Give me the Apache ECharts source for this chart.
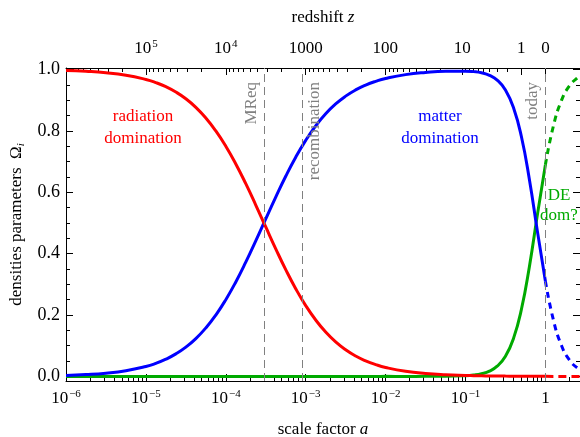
<!DOCTYPE html>
<html>
<head>
<meta charset="utf-8">
<script src="https://cdn.jsdelivr.net/npm/echarts@6/dist/echarts.min.js"></script>
<style>
html,body{margin:0;padding:0;background:#fff;}
#chart{width:580px;height:437px;}
</style>
</head>
<body>
<div id="chart"></div>
<script>
// ---- data ----
var scaleFactor = [1e-6, 1.778e-6, 3.162e-6, 5.623e-6, 1e-5,
  1.334e-5, 1.778e-5, 2.371e-5, 3.162e-5, 4.217e-5, 5.623e-5, 7.499e-5, 1e-4,
  1.334e-4, 1.778e-4, 2.371e-4, 3.162e-4, 4.217e-4, 5.623e-4, 7.499e-4, 1e-3,
  1.334e-3, 1.778e-3, 2.371e-3, 3.162e-3, 4.217e-3, 5.623e-3, 7.499e-3, 1e-2,
  1.778e-2, 3.162e-2, 5.623e-2, 0.1,
  0.1259, 0.1585, 0.1995, 0.2512, 0.3162, 0.3981, 0.5012, 0.631, 0.7943, 1,
  1.259, 1.585, 1.995, 2.512, 3];
var radiation = [0.9967, 0.9941, 0.9896, 0.9816, 0.9677,
  0.9574, 0.9440, 0.9267, 0.9047, 0.8768, 0.8421, 0.8, 0.75,
  0.6923, 0.6279, 0.5585, 0.4869, 0.4158, 0.3479, 0.2857, 0.2308,
  0.1837, 0.1444, 0.1123, 0.0867, 0.0664, 0.0507, 0.0385, 0.0291,
  0.0166, 0.0094, 0.0053, 0.0030,
  0.0024, 0.0019, 0.0015, 0.0012, 0.0009, 0.0007, 0.0005, 0.0003, 0.0002, 0.0001,
  0, 0, 0, 0, 0];
var matter = [0.0033, 0.0059, 0.0104, 0.0184, 0.0323,
  0.0426, 0.0560, 0.0733, 0.0953, 0.1232, 0.1579, 0.2, 0.25,
  0.3077, 0.3721, 0.4415, 0.5131, 0.5842, 0.6521, 0.7143, 0.7692,
  0.8163, 0.8556, 0.8877, 0.9133, 0.9336, 0.9493, 0.9615, 0.9709,
  0.9834, 0.9905, 0.9943, 0.9948,
  0.9932, 0.9894, 0.9812, 0.9649, 0.9334, 0.8763, 0.7808, 0.6412, 0.4726, 0.31,
  0.1838, 0.1014, 0.0535, 0.0276, 0.0164];
var darkEnergy = [0, 0, 0, 0, 0,
  0, 0, 0, 0, 0, 0, 0, 0,
  0, 0, 0, 0, 0, 0, 0, 0,
  0, 0, 0, 0, 0, 0, 0, 0.0001,
  0, 0.0001, 0.0004, 0.0022,
  0.0044, 0.0088, 0.0173, 0.0340, 0.0657, 0.1231, 0.2187, 0.3585, 0.5272, 0.69,
  0.8161, 0.8986, 0.9465, 0.9724, 0.9836];

var today = 1;
var epochLines = [
  {a: 3e-4, label: 'MReq', side: 'insideEndTop'},
  {a: 9.17e-4, label: 'recombination', side: 'insideEndBottom'},
  {a: 1, label: 'today', side: 'insideEndTop'}
];

var bottomMajorTicks = [1e-6, 1e-5, 1e-4, 1e-3, 1e-2, 1e-1, 1];
var redshiftTicks = [1e5, 1e4, 1000, 100, 10, 1, 0];
var yMajorTicks = [0, 0.2, 0.4, 0.6, 0.8, 1.0];
var yMinorTicks = [0.05, 0.1, 0.15, 0.25, 0.3, 0.35, 0.45, 0.5, 0.55, 0.65, 0.7, 0.75, 0.85, 0.9, 0.95];

var A_MIN = 1e-6, A_MAX = 2.71, Y_MIN = -0.015, Y_MAX = 1.005;
var LX_MIN = Math.log10(A_MIN), LX_MAX = Math.log10(A_MAX);
var lg = function (a) { return Math.log10(a); };

// tick positions (log10 of scale factor)
var bottomMinorTicks = [];
for (var k = -6; k <= 0; k++) for (var m = 2; m <= 9; m++) {
  var v = m * Math.pow(10, k); if (v <= A_MAX) bottomMinorTicks.push(lg(v));
}
var topMinorTicks = [];
for (var k2 = 0; k2 <= 5; k2++) for (var m2 = 2; m2 <= 9; m2++) {
  var av = 1 / (1 + m2 * Math.pow(10, k2)); if (av >= A_MIN) topMinorTicks.push(lg(av));
}
var bottomMajorL = bottomMajorTicks.map(lg);
var topMajorL = redshiftTicks.map(function (z) { return lg(1 / (1 + z)); });

function pairs(arr, keep) {
  var out = [];
  for (var i = 0; i < scaleFactor.length; i++) if (keep(scaleFactor[i])) out.push([lg(scaleFactor[i]), arr[i]]);
  return out;
}
var past = function (a) { return a <= today; };
var future = function (a) { return a >= today; };

var FONT = '"Liberation Serif", "Times New Roman", serif';
var RED = '#ff0000', BLUE = '#0000ff', GREEN = '#00aa00', GRAY = '#808080';

var labelRich = {
  b: {fontFamily: FONT, fontSize: 17, color: '#000', lineHeight: 20},
  s: {fontFamily: FONT, fontSize: 11, color: '#000', verticalAlign: 'top', lineHeight: 20, padding: [0, 0, 0, 1]}
};

function bottomFmt(v) {
  var e = Math.round(v);
  if (e === 0) return '{b|1}';
  return '{b|10}{s|\u2212' + (-e) + '}';
}
function topFmt(v) {
  var z = Math.round(Math.pow(10, -v) - 1);
  if (z >= 1e4) return '{b|10}{s|' + Math.round(Math.log10(z)) + '}';
  return '{b|' + z + '}';
}

function tickAxisX(pos, ticks, len, extra) {
  var ax = {
    type: 'value', position: pos, min: LX_MIN, max: LX_MAX,
    axisLine: {show: false, onZero: false}, splitLine: {show: false},
    axisLabel: {show: false},
    axisTick: {show: true, inside: true, length: len, customValues: ticks, lineStyle: {color: '#000', width: 1}}
  };
  if (extra) for (var key in extra) ax[key] = extra[key];
  return ax;
}
function tickAxisY(pos, ticks, len, extra) {
  var ax = {
    type: 'value', position: pos, min: Y_MIN, max: Y_MAX,
    axisLine: {show: false, onZero: false}, splitLine: {show: false},
    axisLabel: {show: false},
    axisTick: {show: true, inside: true, length: len, customValues: ticks, lineStyle: {color: '#000', width: 1}}
  };
  if (extra) for (var key in extra) ax[key] = extra[key];
  return ax;
}

var chart = echarts.init(document.getElementById('chart'), null, {renderer: 'canvas'});

var option = {
  animation: false,
  backgroundColor: '#fff',
  grid: {left: 66, right: 0, top: 68, bottom: 56, containLabel: false, outerBoundsMode: 'none'},
  xAxis: [
    tickAxisX('bottom', bottomMajorL, 7, {
      axisLine: {show: true, onZero: false, lineStyle: {color: '#000', width: 1}},
      axisLabel: {show: true, customValues: bottomMajorL, formatter: bottomFmt, rich: labelRich, margin: 8},
      name: 'scale factor {i|a}', nameLocation: 'middle', nameGap: 40,
      nameTextStyle: {fontFamily: FONT, fontSize: 17, color: '#000',
        rich: {i: {fontFamily: FONT, fontSize: 17, fontStyle: 'italic', color: '#000'}}}
    }),
    tickAxisX('bottom', bottomMinorTicks, 4),
    tickAxisX('top', topMajorL, 7, {
      axisLine: {show: true, onZero: false, lineStyle: {color: '#000', width: 1}},
      axisLabel: {show: true, customValues: topMajorL, formatter: topFmt, rich: labelRich, margin: 9},
      name: 'redshift {i|z}', nameLocation: 'middle', nameGap: 42,
      nameTextStyle: {fontFamily: FONT, fontSize: 17, color: '#000',
        rich: {i: {fontFamily: FONT, fontSize: 17, fontStyle: 'italic', color: '#000'}}}
    }),
    tickAxisX('top', topMinorTicks, 4)
  ],
  yAxis: [
    tickAxisY('left', yMajorTicks, 7, {
      axisLine: {show: true, onZero: false, lineStyle: {color: '#000', width: 1}},
      axisLabel: {show: true, customValues: yMajorTicks, margin: 6,
        formatter: function (v) { return v.toFixed(1); },
        fontFamily: FONT, fontSize: 18, color: '#000'},
      name: 'densities parameters  {o|\u03A9}{sub|i}', nameLocation: 'middle', nameGap: 35, nameRotate: 90,
      nameTextStyle: {fontFamily: FONT, fontSize: 17, color: '#000',
        rich: {o: {fontFamily: FONT, fontSize: 17, color: '#000'},
               sub: {fontFamily: FONT, fontSize: 11, fontStyle: 'italic', color: '#000', verticalAlign: 'bottom', lineHeight: 20}}}
    }),
    tickAxisY('left', yMinorTicks, 4),
    tickAxisY('right', yMajorTicks, 7),
    tickAxisY('right', yMinorTicks, 4)
  ],
  graphic: [
    {type: 'text', left: 103, top: 106, style: {text: 'radiation\ndomination', fill: RED, font: '17px ' + FONT, textAlign: 'center', lineHeight: 22, width: 80}, silent: true},
    {type: 'text', left: 400, top: 106, style: {text: 'matter\ndomination', fill: BLUE, font: '17px ' + FONT, textAlign: 'center', lineHeight: 22, width: 80}, silent: true},
    {type: 'text', left: 519, top: 186, style: {text: 'DE\ndom?', fill: GREEN, font: '17px ' + FONT, textAlign: 'center', lineHeight: 20, width: 80}, silent: true}
  ],
  series: [
    {type: 'line', name: 'DE', data: pairs(darkEnergy, past), smooth: true, showSymbol: false, symbol: 'none',
      lineStyle: {color: GREEN, width: 3}, z: 2},
    {type: 'line', name: 'DE future', data: pairs(darkEnergy, future), smooth: true, showSymbol: false, symbol: 'none',
      lineStyle: {color: GREEN, width: 3, type: [6, 5]}, z: 2},
    {type: 'line', name: 'matter', data: pairs(matter, past), smooth: true, showSymbol: false, symbol: 'none',
      lineStyle: {color: BLUE, width: 3}, z: 3},
    {type: 'line', name: 'matter future', data: pairs(matter, future), smooth: true, showSymbol: false, symbol: 'none',
      lineStyle: {color: BLUE, width: 3, type: [6, 5]}, z: 3},
    {type: 'line', name: 'radiation', data: pairs(radiation, past), smooth: true, showSymbol: false, symbol: 'none',
      lineStyle: {color: RED, width: 3}, z: 4,
      markLine: {
        silent: true, symbol: 'none', animation: false,
        lineStyle: {color: GRAY, width: 1, type: [8, 5]},
        data: epochLines.map(function (e) {
          return {xAxis: lg(e.a), label: {show: true, formatter: e.label, position: e.side,
            color: GRAY, fontFamily: FONT, fontSize: 17, distance: [14, 4]}};
        })
      }},
    {type: 'line', name: 'radiation future', data: pairs(radiation, future), smooth: true, showSymbol: false, symbol: 'none',
      lineStyle: {color: RED, width: 3, type: [8, 5]}, z: 4}
  ]
};
chart.setOption(option);
</script>
</body>
</html>
